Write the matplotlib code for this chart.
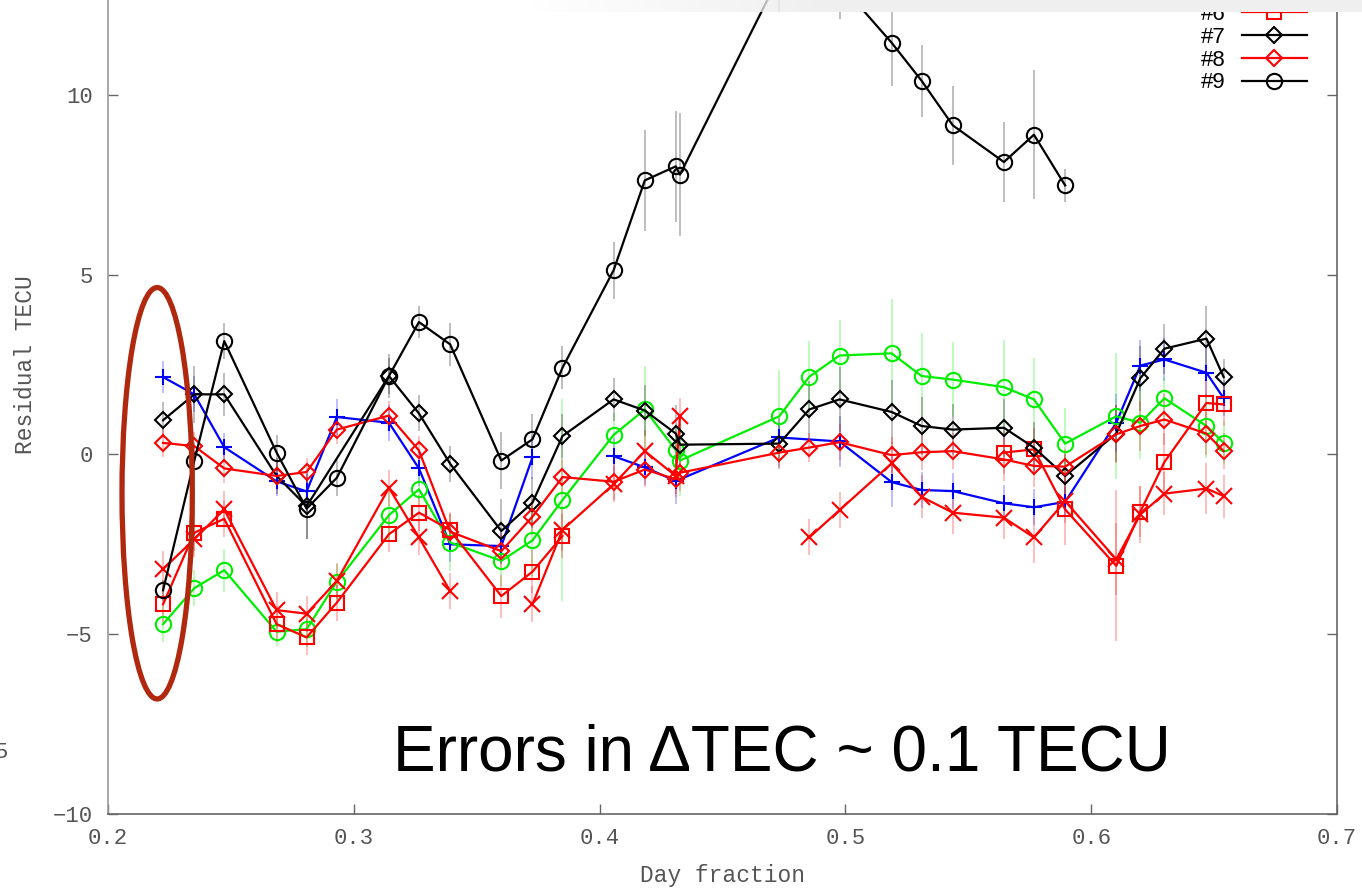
import numpy as np
import matplotlib
matplotlib.use("Agg")
import matplotlib.pyplot as plt
from matplotlib.patches import Ellipse

nan = np.nan

# day-fraction sample times, one list per station (nan = gap in the track)
x3 = [0.2224, 0.2351, 0.2473, 0.2686, 0.2808, 0.2931, 0.3143, 0.3265, 0.3392, 0.3600, 0.3727, nan,
      0.4057, 0.4184, 0.4310, 0.4731, 0.4976, 0.5188, 0.5310, 0.5437, 0.5645, 0.5767, 0.5894,
      0.6102, 0.6200, 0.6298, 0.6469, 0.6539]
y3 = [2.15, 1.67, 0.20, -0.75, -1.03, 1.04, 0.88, -0.39, -2.50, -2.55, -0.08, nan,
      -0.05, -0.36, -0.74, 0.47, 0.36, -0.77, -0.99, -1.02, -1.36, -1.47, -1.32,
      0.88, 2.47, 2.64, 2.27, 1.56]
e3 = [0.45, 0.5, 0.4, 0.4, 0.6, 0.5, 0.5, 0.5, 0.5, 0.5, 0.6, nan,
      0.5, 0.5, 0.65, 0.4, 0.7, 0.7, 0.5, 0.5, 0.5, 0.5, 0.4,
      0.8, 0.7, 0.6, 0.7, 0.5]

x4 = [0.2224, 0.2351, 0.2473, 0.2686, 0.2808, 0.2931, 0.3143, 0.3265, 0.3392, 0.3600, 0.3727, 0.3849,
      0.4057, 0.4184, 0.4310, 0.4327, 0.4731, 0.4853, 0.4976, 0.5188, 0.5310, 0.5437, 0.5645,
      0.5767, 0.5894, 0.6102, 0.6200, 0.6298, 0.6469, 0.6539]
y4 = [-4.72, -3.72, -3.22, -4.93, -4.86, -3.54, -1.69, -0.97, -2.45, -2.96, -2.39, -1.27,
      0.54, 1.25, 0.12, -0.17, 1.06, 2.16, 2.75, 2.81, 2.18, 2.08, 1.87,
      1.53, 0.30, 1.06, 0.88, 1.56, 0.79, 0.32]
e4 = [0.5, 0.5, 0.6, 0.4, 0.5, 0.5, 0.7, 0.5, 0.8, 0.7, 1.0, 2.8,
      0.6, 1.2, 0.6, 1.0, 1.3, 1.0, 1.0, 1.5, 1.2, 1.05, 1.3,
      1.15, 1.0, 1.75, 1.0, 0.6, 0.9, 0.6]

x5 = [0.2224, 0.2351, 0.2473, 0.2686, 0.2808, 0.2931, 0.3143, 0.3265, 0.3392, nan,
      0.3727, 0.3849, 0.4057, 0.4184, 0.4310, 0.4327, nan,
      0.4853, 0.4976, 0.5188, 0.5310, 0.5437, 0.5645, 0.5767, 0.5894,
      0.6102, 0.6200, 0.6298, 0.6469, 0.6539]
y5 = [-3.19, -2.36, -1.53, -4.33, -4.43, -3.52, -0.93, -2.31, -3.80, nan,
      -4.17, -2.10, -0.83, 0.09, -0.60, 1.06, nan,
      -2.31, -1.55, -0.25, -1.18, -1.62, -1.76, -2.31, -1.30,
      -2.92, -1.67, -1.09, -0.95, -1.16]
e5 = [0.5, 0.5, 0.5, 0.5, 0.5, 0.5, 0.5, 0.5, 0.5, nan,
      0.5, 0.6, 0.5, 0.6, 0.5, 0.5, nan,
      0.5, 0.5, 0.6, 0.6, 0.6, 0.6, 0.7, 0.6,
      1.0, 0.8, 0.6, 0.7, 0.6]

x6 = [0.2224, 0.2351, 0.2473, 0.2686, 0.2808, 0.2931, 0.3143, 0.3265, 0.3392, 0.3600, 0.3727, 0.3849, nan,
      0.5645, 0.5767, 0.5894, 0.6102, 0.6200, 0.6298, 0.6469, 0.6539]
y6 = [-4.17, -2.18, -1.79, -4.72, -5.09, -4.12, -2.22, -1.62, -2.10, -3.94, -3.26, -2.27, nan,
      0.05, 0.14, -1.53, -3.10, -1.59, -0.21, 1.43, 1.39]
e6 = [0.5, 0.5, 0.5, 0.5, 0.5, 0.5, 0.5, 0.5, 0.5, 0.6, 0.6, 0.6, nan,
      0.6, 0.6, 1.0, 2.1, 0.7, 0.8, 0.7, 0.6]

x7 = [0.2224, 0.2351, 0.2473, 0.2686, 0.2808, 0.3143, 0.3265, 0.3392, 0.3600, 0.3727, 0.3849,
      0.4057, 0.4184, 0.4310, 0.4327, 0.4731, 0.4853, 0.4976, 0.5188, 0.5310, 0.5437, 0.5645,
      0.5767, 0.5894, 0.6102, 0.6200, 0.6298, 0.6469, 0.6539]
y7 = [0.95, 1.67, 1.67, -0.60, -1.44, 2.18, 1.14, -0.26, -2.13, -1.34, 0.51,
      1.53, 1.22, 0.58, 0.27, 0.30, 1.25, 1.53, 1.18, 0.79, 0.69, 0.74,
      0.19, -0.60, 0.58, 2.12, 2.94, 3.22, 2.15]
e7 = [0.5, 0.8, 0.6, 0.5, 0.9, 0.5, 0.5, 0.5, 0.9, 0.7, 0.6,
      0.6, 0.7, 0.8, 0.6, 0.7, 0.8, 0.9, 0.9, 0.8, 0.7, 0.8,
      0.7, 0.6, 0.8, 0.9, 0.7, 0.9, 0.5]

x8 = [0.2224, 0.2351, 0.2473, 0.2686, 0.2808, 0.2931, 0.3143, 0.3265, 0.3392, 0.3600, 0.3727, 0.3849,
      0.4057, 0.4184, 0.4310, 0.4327, 0.4731, 0.4853, 0.4976, 0.5188, 0.5310, 0.5437, 0.5645,
      0.5767, 0.5894, 0.6102, 0.6200, 0.6298, 0.6469, 0.6539]
y8 = [0.32, 0.23, -0.39, -0.60, -0.49, 0.69, 1.08, 0.11, -2.15, -2.69, -1.73, -0.63,
      -0.76, -0.42, -0.69, -0.51, 0.05, 0.19, 0.34, -0.02, 0.06, 0.09, -0.14,
      -0.32, -0.34, 0.56, 0.79, 0.97, 0.58, 0.09]
e8 = [0.4, 0.4, 0.4, 0.4, 0.4, 0.4, 0.4, 0.4, 0.5, 0.5, 0.5, 0.5,
      0.5, 0.5, 0.5, 0.5, 0.4, 0.4, 0.5, 0.5, 0.5, 0.5, 0.6,
      0.6, 0.5, 0.8, 0.7, 0.7, 0.6, 0.5]

x9 = [0.2224, 0.2351, 0.2473, 0.2686, 0.2808, 0.2931, 0.3143, 0.3265, 0.3392, 0.3600, 0.3727, 0.3849,
      0.4057, 0.4184, 0.4310, 0.4327, 0.4731, 0.4853, 0.4976, 0.5188, 0.5310, 0.5437, 0.5645,
      0.5767, 0.5894]
y9 = [-3.78, -0.18, 3.15, 0.05, -1.51, -0.65, 2.18, 3.68, 3.06, -0.17, 0.42, 2.41,
      5.12, 7.62, 8.01, 7.78, 13.30, 15.00, 13.10, 11.45, 10.39, 9.15, 8.13,
      8.89, 7.48]
e9 = [0.3, 0.5, 0.5, 0.5, 0.85, 0.5, 0.6, 0.45, 0.6, 0.8, 0.7, 0.6,
      0.8, 1.4, 1.55, 1.7, 1.0, 1.0, 1.0, 1.2, 1.0, 1.1, 1.1,
      1.8, 0.45]

series = [
    ("#3", x3, y3, e3, "#0000ff", "+", 12),
    ("#4", x4, y4, e4, "#00ee00", "o", 11),
    ("#5", x5, y5, e5, "#ff0000", "x", 11),
    ("#6", x6, y6, e6, "#ff0000", "s", 10),
    ("#7", x7, y7, e7, "#000000", "D", 8.5),
    ("#8", x8, y8, e8, "#ff0000", "D", 8.5),
    ("#9", x9, y9, e9, "#000000", "o", 11),
]

W, H = 1362, 889
fig = plt.figure(figsize=(W / 100, H / 100), dpi=100)
fig.patch.set_facecolor("white")

# plot box runs past the top edge of the figure
ymin, ymax = -10, 15
ax_left, ax_right, ax_bottom = 108, 1337, 814
px_per_unit = 36
ax_top = 455 - ymax * px_per_unit
ax = fig.add_axes([ax_left / W, (H - ax_bottom) / H,
                   (ax_right - ax_left) / W, (ax_bottom - ax_top) / H])

mono = "Liberation Mono"
grey = "#555555"

for name, xs, ys, es, col, mk, ms in series:
    ax.errorbar(xs, ys, yerr=es, fmt="none", ecolor=col, elinewidth=1.2,
                alpha=0.3, zorder=1)
    ax.plot(xs, ys, color=col, lw=1.6, marker=mk, ms=ms, mfc="none",
            mec=col, mew=1.5, label=name, zorder=2)

ax.set_xlim(0.2, 0.7)
ax.set_ylim(ymin, ymax)
ax.set_xticks([0.2, 0.3, 0.4, 0.5, 0.6, 0.7])
ax.set_xticklabels(["0.2", "0.3", "0.4", "0.5", "0.6", "0.7"])
ax.set_yticks([-10, -5, 0, 5, 10])
ax.tick_params(direction="in", length=7, width=1, color="#666666",
               top=True, right=True, labelsize=16, labelcolor=grey)
ax.tick_params(axis="x", pad=10)
ax.tick_params(axis="y", pad=11)
for lab in ax.get_xticklabels() + ax.get_yticklabels():
    lab.set_fontfamily(mono)
for side in ["left", "right", "top", "bottom"]:
    ax.spines[side].set_color("#666666")
    ax.spines[side].set_linewidth(1.2)
ax.spines["left"].set_color("#999999")

ax.set_xlabel("Day fraction", fontfamily=mono, fontsize=16.5, color=grey)
ax.set_ylabel("Residual TECU", fontfamily=mono, fontsize=16.5, color=grey)
ax.xaxis.set_label_coords(0.5, -0.0679)
ax.xaxis.label.set_verticalalignment("center")
ax.yaxis.set_label_coords(-0.0675, 0.5)
ax.yaxis.label.set_verticalalignment("center")

leg = ax.legend(loc="lower right", bbox_to_anchor=(1307 / W, (H - 93.5) / H),
                bbox_transform=fig.transFigure, frameon=False, markerfirst=False,
                handlelength=2.93, handletextpad=0.72,
                labelspacing=0.08, borderpad=0, borderaxespad=0,
                prop={"family": "Liberation Sans", "size": 16})

# highlight of the first epoch
ax.add_patch(Ellipse((0.220, -1.08), 0.0286, 11.44, fill=False,
                     edgecolor="#b0280e", lw=3.8, zorder=4))

ax.text(0.3159, -8.8, "Errors in \u0394TEC ~ 0.1 TECU", fontsize=46,
        family="Liberation Sans", color="black", va="baseline", ha="left", zorder=5)

# stray label at the left margin
fig.text(8 / W, 1 - 753 / H, "5", ha="right", va="center", family=mono,
         fontsize=16, color=grey)

# light grey strip across the top
band_w = W - 450
band = np.ones((12, band_w, 4))
band[..., :3] = 0.94
ramp = np.clip((np.arange(band_w) - 80) / 300.0, 0, 1)
band[..., 3] = ramp[None, :]
fig.figimage(band, xo=450, yo=H - 12, origin="upper", zorder=10)

fig.savefig("out.png", dpi=100)
